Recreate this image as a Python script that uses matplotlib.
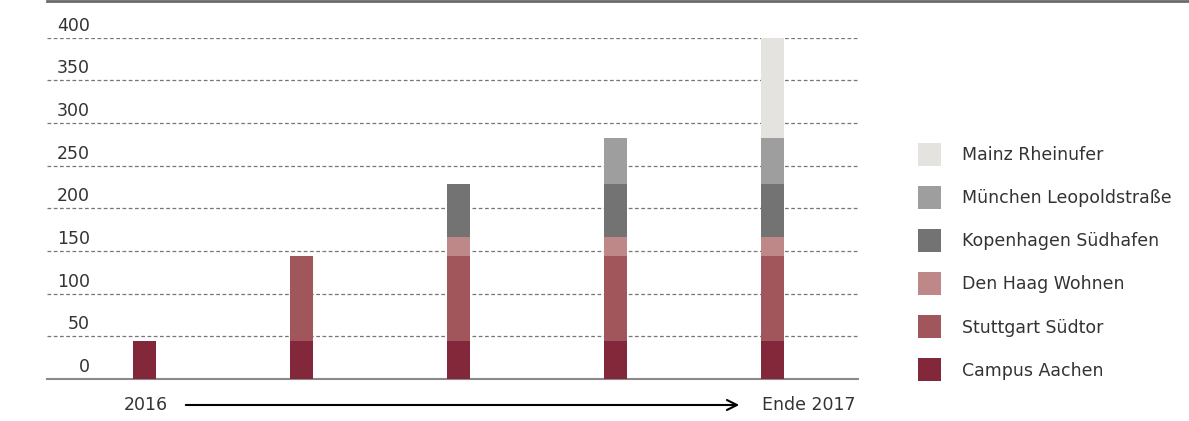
import numpy as np
import matplotlib
matplotlib.use("Agg")
import matplotlib.pyplot as plt
from matplotlib.patches import Patch
from matplotlib.lines import Line2D

# stacked values per project, 5 stages from 2016 to end of 2017
stages = np.arange(5)
series = ["Campus Aachen", "Stuttgart Südtor", "Den Haag Wohnen",
          "Kopenhagen Südhafen", "München Leopoldstraße", "Mainz Rheinufer"]
campus_aachen = [44, 44, 44, 44, 44]
stuttgart_suedtor = [0, 100, 100, 100, 100]
den_haag = [0, 0, 22, 22, 22]
kopenhagen = [0, 0, 63, 63, 63]
muenchen = [0, 0, 0, 53, 53]
mainz = [0, 0, 0, 0, 118]
colors = ["#82283a", "#a0565b", "#bf8888", "#737373", "#9d9e9d", "#e4e3df"]
yticks = [0, 50, 100, 150, 200, 250, 300, 350, 400]

plt.rcParams['font.family'] = ['DejaVu Sans']
txt_col = "#333333"
fs = 12.5

W, H = 1189, 421
fig = plt.figure(figsize=(W / 100, H / 100), dpi=100)
ax = fig.add_axes([47 / W, (H - 379) / H, (858 - 47) / W, (379 - 37.7) / H])

values = [campus_aachen, stuttgart_suedtor, den_haag, kopenhagen, muenchen, mainz]
bottom = np.zeros(5)
for name, vals, c in zip(series, values, colors):
    ax.bar(stages, vals, width=23 / 157, bottom=bottom, color=c, linewidth=0, label=name, zorder=3)
    bottom += np.array(vals)

ax.set_xlim(-98 / 157, 4 + 85 / 157)
ax.set_ylim(0, 400)
for s in ["top", "right", "left"]:
    ax.spines[s].set_visible(False)
ax.spines["bottom"].set_color("#8a8a8a")
ax.spines["bottom"].set_linewidth(1.5)
ax.set_xticks([])
ax.set_yticks([])

# dashed gridlines and labels sitting above them
for v in yticks[1:]:
    ax.axhline(v, color="#777777", linestyle=(0, (3, 2)), linewidth=0.9, zorder=1)
for v in yticks:
    ax.text(43 / 811, v + 3.5, str(v), transform=ax.get_yaxis_transform(),
            ha="right", va="bottom", fontsize=fs, color=txt_col)

# top rule
fig.add_artist(Line2D([47 / W, 1.0], [1 - 1 / H, 1 - 1 / H], color="#6a6a6a", linewidth=2))

# timeline arrow
ax.annotate("", xy=(742, H - 405), xytext=(183, H - 405), xycoords="figure pixels",
            textcoords="figure pixels",
            arrowprops=dict(arrowstyle="->", color="black", lw=1.5, mutation_scale=18))
fig.text(168 / W, 1 - 405 / H, "2016", ha="right", va="center", fontsize=fs, color=txt_col)
fig.text(762 / W, 1 - 405 / H, "Ende 2017", ha="left", va="center", fontsize=fs, color=txt_col)

handles = [Patch(facecolor=c, edgecolor="none") for c in colors][::-1]
labels = series[::-1]
fs_px = fs * 100 / 72
hh = (23 / fs_px - 0.245) / 0.65
fig.legend(handles, labels, loc="upper left", bbox_to_anchor=(918 / W, 1 - 143 / H),
           frameon=False, fontsize=fs, labelcolor=txt_col,
           handlelength=23 / fs_px, handleheight=hh,
           handletextpad=21 / fs_px, labelspacing=(43.4 - 23.3) / fs_px,
           borderpad=0, borderaxespad=0)

fig.savefig("out.png", dpi=100)
